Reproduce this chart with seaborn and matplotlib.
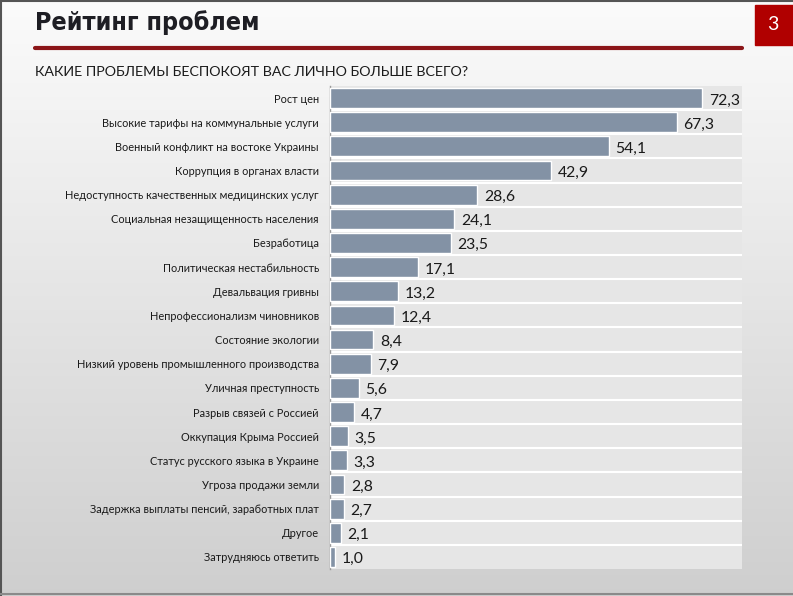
import numpy as np
import pandas as pd
import matplotlib
matplotlib.use('Agg')
import matplotlib.pyplot as plt
import seaborn as sns

# data
problems = [
    'Рост цен',
    'Высокие тарифы на коммунальные услуги',
    'Военный конфликт на востоке Украины',
    'Коррупция в органах власти',
    'Недоступность качественных медицинских услуг',
    'Социальная незащищенность населения',
    'Безработица',
    'Политическая нестабильность',
    'Девальвация гривны',
    'Непрофессионализм чиновников',
    'Состояние экологии',
    'Низкий уровень промышленного производства',
    'Уличная преступность',
    'Разрыв связей с Россией',
    'Оккупация Крыма Россией',
    'Статус русского языка в Украине',
    'Угроза продажи земли',
    'Задержка выплаты пенсий, заработных плат',
    'Другое',
    'Затрудняюсь ответить',
]
shares = [72.3, 67.3, 54.1, 42.9, 28.6, 24.1, 23.5, 17.1, 13.2, 12.4,
          8.4, 7.9, 5.6, 4.7, 3.5, 3.3, 2.8, 2.7, 2.1, 1.0]

title = 'Рейтинг проблем'
question = 'КАКИЕ ПРОБЛЕМЫ БЕСПОКОЯТ ВАС ЛИЧНО БОЛЬШЕ ВСЕГО?'
slide_no = '3'

df = pd.DataFrame({'problem': problems, 'share': shares})

sns.set_theme(style='white')
plt.rcParams['font.family'] = ['Lato', 'DejaVu Sans']

fig = plt.figure(figsize=(7.93, 5.96), dpi=100)

# slide background: light gradient + thin frame
bg = fig.add_axes([0, 0, 1, 1], zorder=-10)
grad = np.linspace(0.985, 0.81, 256).reshape(-1, 1)
bg.imshow(np.dstack([grad, grad, grad]), aspect='auto', extent=[0, 1, 0, 1])
bg.set_xlim(0, 1)
bg.set_ylim(0, 1)
bg.set_axis_off()
bg.plot([0.001, 0.001], [0, 1], color='#555555', lw=1.5)
bg.plot([0, 1], [0.999, 0.999], color='#555555', lw=1.5)
bg.plot([0, 1], [2 / 596, 2 / 596], color='#8a8a8a', lw=1.5)

# header
fig.text(35 / 793, 1 - 23 / 596, title, fontsize=18, fontweight='heavy',
         family=['DejaVu Sans'], fontstretch='condensed', color='#1e1e24',
         va='center', ha='left')
fig.add_artist(plt.Line2D([35 / 793, 742 / 793], [1 - 48 / 596, 1 - 48 / 596],
                          color='#8b1518', lw=3))
fig.patches.append(plt.Rectangle((755 / 793, 1 - 45 / 596), 40 / 793, 40 / 596,
                                 transform=fig.transFigure, color='#b00000'))
fig.text(773 / 793, 1 - 24 / 596, slide_no, fontsize=14, color='white',
         ha='center', va='center')
fig.text(35 / 793, 1 - 72 / 596, question, fontsize=10.3, color='#1a1a1a',
         ha='left', va='center')

ax = fig.add_axes([330 / 793, 1 - 569 / 596, 412 / 793, 483 / 596])
ax.set_facecolor('#e6e6e6')
sns.barplot(data=df, y='problem', x='share', orient='h', color='#8392a5',
            saturation=1, width=0.82, ax=ax, zorder=3)

for i in range(len(problems) - 1):
    ax.axhline(i + 0.5, color='white', lw=1.5, zorder=2)

for i, v in enumerate(shares):
    ax.text(v + 1.3, i + 0.1, f'{v:.1f}'.replace('.', ','), fontsize=11.3,
            color='#1a1a1a', va='center', ha='left', zorder=4)

ax.set_xlim(0, 80)
ax.set_ylim(len(problems) - 0.5, -0.5)
ax.set_xlabel('')
ax.set_ylabel('')
ax.set_xticks([])
ax.tick_params(axis='y', length=0, pad=8, labelsize=7.9, labelcolor='#1a1a1a')
for s in ['top', 'right', 'bottom']:
    ax.spines[s].set_visible(False)
ax.spines['left'].set_color('#9a9a9a')
ax.spines['left'].set_linewidth(1)

fig.savefig('out.png', dpi=100)
